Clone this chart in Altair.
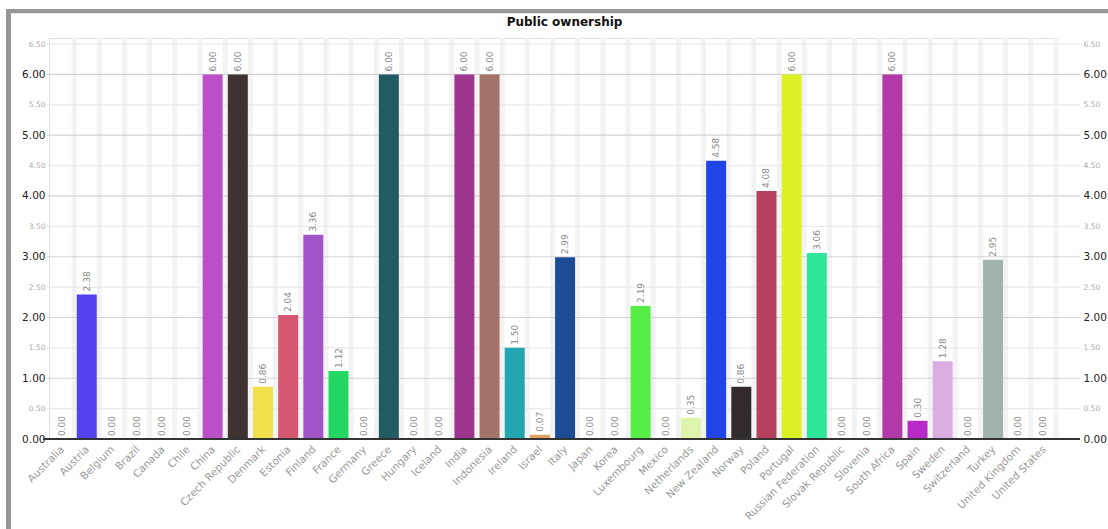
import altair as alt
import pandas as pd

countries = ["Australia", "Austria", "Belgium", "Brazil", "Canada", "Chile", "China",
             "Czech Republic", "Denmark", "Estonia", "Finland", "France", "Germany",
             "Greece", "Hungary", "Iceland", "India", "Indonesia", "Ireland", "Israel",
             "Italy", "Japan", "Korea", "Luxembourg", "Mexico", "Netherlands",
             "New Zealand", "Norway", "Poland", "Portugal", "Russian Federation",
             "Slovak Republic", "Slovenia", "South Africa", "Spain", "Sweden",
             "Switzerland", "Turkey", "United Kingdom", "United States"]
values = [0.00, 2.38, 0.00, 0.00, 0.00, 0.00, 6.00,
          6.00, 0.86, 2.04, 3.36, 1.12, 0.00,
          6.00, 0.00, 0.00, 6.00, 6.00, 1.50, 0.07,
          2.99, 0.00, 0.00, 2.19, 0.00, 0.35,
          4.58, 0.86, 4.08, 6.00, 3.06,
          0.00, 0.00, 6.00, 0.30, 1.28,
          0.00, 2.95, 0.00, 0.00]
colors = ["#888888", "#5340ee", "#888888", "#888888", "#888888", "#888888", "#bb4fc7",
          "#3e3330", "#f2df4c", "#d45671", "#a054c8", "#22d764", "#888888",
          "#215c62", "#888888", "#888888", "#9c368e", "#a4746a", "#24a6b0", "#e0a060",
          "#1d4c97", "#888888", "#888888", "#55ed44", "#888888", "#def4ac",
          "#2144e8", "#322a2e", "#b5415e", "#dcf025", "#2ee69b",
          "#888888", "#888888", "#b23aa8", "#b82ac7", "#dbaee3",
          "#888888", "#a0b3ad", "#888888", "#888888"]
tick_values = [0.0, 0.5, 1.0, 1.5, 2.0, 2.5, 3.0, 3.5, 4.0, 4.5, 5.0, 5.5, 6.0, 6.5]
title_text = "Public ownership"

W = 1007
H = 401
FONT = "DejaVu Sans"

df = pd.DataFrame({"country": countries, "value": values, "color": colors})
ticks_df = pd.DataFrame({"v": tick_values,
                         "major": [v % 1 == 0 for v in tick_values]})

xsc = alt.Scale(domain=countries, paddingInner=0.205, paddingOuter=0.1025)
ysc = alt.Scale(domain=[0, 6.6], nice=False, zero=True)

xenc = alt.X("country:N", sort=None, scale=xsc, axis=None)

one = alt.Data(values=[{"a": 1}])

frame_top = alt.Chart(one).mark_rect(color="#969696").encode(
    x=alt.value(-43), x2=alt.value(1059), y=alt.value(-29), y2=alt.value(-24.7))
frame_left = alt.Chart(one).mark_rect(color="#969696").encode(
    x=alt.value(-43), x2=alt.value(-38), y=alt.value(-29), y2=alt.value(491))

title = alt.Chart(one).mark_text(
    text=title_text, font=FONT, fontSize=12, fontWeight="bold", color="#111111",
    align="center", baseline="alphabetic").encode(
    x=alt.value(515.5), y=alt.value(-12))

stripes = alt.Chart(df).mark_bar(width=5, xOffset=12.59, color="#f3f3f3").encode(
    x=xenc, y=alt.value(0), y2=alt.value(H))

major_cond = "datum.value % 1 === 0"
grid = alt.Chart(ticks_df).mark_rule(strokeWidth=1.2).encode(
    y=alt.Y("v:Q", scale=ysc, axis=alt.Axis(
        orient="left", values=tick_values, format=".2f", title=None,
        grid=False, domain=False, ticks=False, tickSize=0, labelPadding=4,
        labelFont=FONT,
        labelFontSize={"condition": {"test": major_cond, "value": 10.5}, "value": 7.5},
        labelColor={"condition": {"test": major_cond, "value": "#222222"}, "value": "#aaaaaa"})),
    x=alt.value(-2), x2=alt.value(1031),
    color=alt.condition("datum.major", alt.value("#d3d3d3"), alt.value("#e9e9e9")))

bars = alt.Chart(df).mark_bar(width=20).encode(
    x=xenc,
    y=alt.Y("value:Q", scale=ysc, axis=None),
    color=alt.Color("color:N", scale=None))

zero_line = alt.Chart(one).mark_rule(color="#333333", strokeWidth=2).encode(
    x=alt.value(-6), x2=alt.value(1031), y=alt.value(H))

labels = alt.Chart(df).mark_text(angle=270, align="left", baseline="middle",
                                 yOffset=-3, font=FONT, fontSize=9,
                                 color="#888888").encode(
    x=xenc,
    y=alt.Y("value:Q", scale=ysc, axis=alt.Axis(
        orient="right", values=tick_values, format=".2f", title=None,
        grid=False, domain=False, ticks=False, tickSize=0, labelPadding=27,
        labelFont=FONT,
        labelFontSize={"condition": {"test": major_cond, "value": 10.5}, "value": 7.5},
        labelColor={"condition": {"test": major_cond, "value": "#222222"}, "value": "#aaaaaa"})),
    text=alt.Text("value:Q", format=".2f"))

xlabels = alt.Chart(df).mark_text(angle=315, align="right", baseline="middle",
                                  font=FONT, fontSize=10.5, color="#999999",
                                  xOffset=1).encode(
    x=xenc, y=alt.value(H + 9), text="country:N")

chart = alt.layer(frame_top, frame_left, title, stripes, grid, bars, zero_line, labels,
                  xlabels).resolve_axis(
    y="independent").properties(
    width=W, height=H,
    autosize=alt.AutoSizeParams(type="none"),
    padding={"left": 49, "top": 38, "right": 52, "bottom": 90},
).configure_view(stroke=None).configure(background="white")

chart.save("out.html", embed_options={"renderer": "svg", "actions": False})
